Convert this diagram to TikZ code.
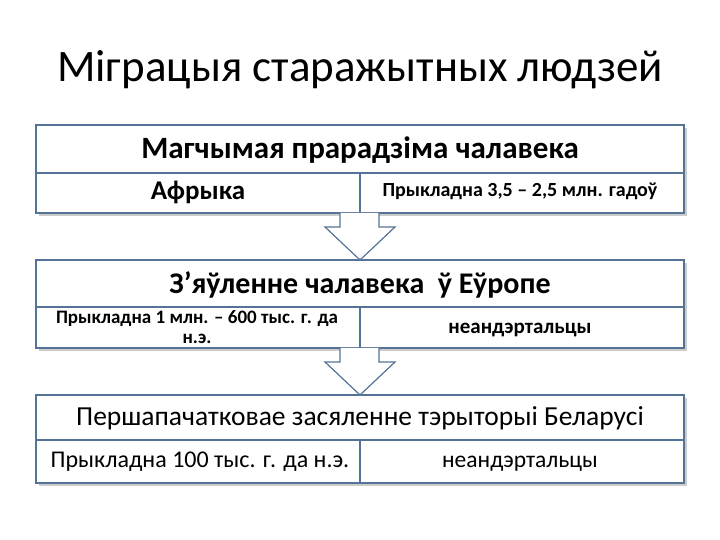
\documentclass[tikz,border=0pt]{standalone}
\usepackage{fontspec}
\setmainfont{Carlito}
\begin{document}
\begin{tikzpicture}[x=1pt,y=1pt,
  bx/.style={draw=bord,line width=1.2pt},
  txt/.style={inner sep=0pt,align=center},
  arr/.style={draw=bord,line width=1.2pt,fill=white,line join=miter}]
\definecolor{bord}{RGB}{85,115,150}
\useasboundingbox (0,0) rectangle (720,540);
\node[txt,font=\fontsize{45}{50}\selectfont] (title) at (360,470) {Міграцыя старажытных людзей};
% box 1
\fill[gray!40] (39,324) rectangle (687,412);
\draw[bx,fill=white] (36,327) rectangle (684,415);
\draw[bx] (36,367) -- (684,367);
\draw[bx] (360,367) -- (360,327);
\node[txt,font=\bfseries\fontsize{31}{34}\selectfont] (h1) at (360,390) {Магчымая прарадзіма чалавека};
\node[txt,font=\bfseries\fontsize{27}{30}\selectfont] (a1) at (198,348) {Афрыка};
\node[txt,font=\bfseries\fontsize{20}{22}\selectfont] (b1) at (520,349) {Прыкладна 3,5 – 2,5 млн. гадоў};
% box 2
\fill[gray!40] (39,189) rectangle (687,277);
\draw[bx,fill=white] (36,192) rectangle (684,280);
\draw[bx] (36,233) -- (684,233);
\draw[bx] (360,233) -- (360,192);
\node[txt,font=\bfseries\fontsize{30}{33}\selectfont] (h2) at (360,255) {З’яўленне чалавека\ \ ў Еўропе};
\node[txt,font=\bfseries\fontsize{19}{20}\selectfont] (a2) at (197,213) {Прыкладна 1 млн. – 600 тыс. г. да\\н.э.};
\node[txt,font=\bfseries\fontsize{21}{23}\selectfont] (b2) at (520,210) {неандэртальцы};
% box 3
\fill[gray!40] (39,54) rectangle (687,142);
\draw[bx,fill=white] (36,57) rectangle (684,145);
\draw[bx] (36,100) -- (684,100);
\draw[bx] (360,100) -- (360,57);
\node[txt,font=\fontsize{27.5}{30}\selectfont] (h3) at (360,122) {Першапачатковае засяленне тэрыторыі Беларусі};
\node[txt,font=\fontsize{24}{26}\selectfont,anchor=base] (a3) at (200,72) {Прыкладна 100 тыс. г. да н.э.};
\node[txt,font=\fontsize{23.5}{26}\selectfont,anchor=base] (b3) at (520,72) {неандэртальцы};
% arrows
\draw[arr] (340,327) -- (340,313) -- (325,313) -- (360,280) -- (395,313) -- (379,313) -- (379,327);
\draw[arr] (340,192) -- (340,178) -- (325,178) -- (360,145) -- (395,178) -- (379,178) -- (379,192);
\end{tikzpicture}
\end{document}
